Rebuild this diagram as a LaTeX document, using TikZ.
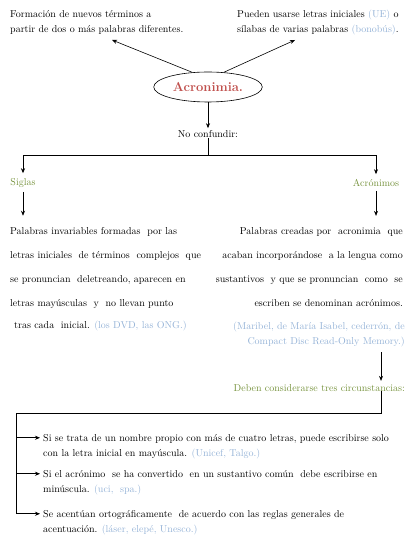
\documentclass[tikz,border=0pt]{standalone}
\usetikzlibrary{arrows.meta,shapes.geometric,calc}

\definecolor{acrorojo}{HTML}{C0504D}
\definecolor{verdeolivo}{HTML}{76923C}
\definecolor{ejemplo}{HTML}{95B3D7}

\tikzset{
    texto/.style={inner sep=0pt, font=\fontsize{10}{15}\selectfont},
    parrafo/.style={inner sep=0pt, font=\fontsize{10}{24}\selectfont},
    tipo/.style={inner sep=0pt, text=verdeolivo, font=\fontsize{10}{12}\selectfont},
    flecha/.style={->, >={Stealth[length=5pt,width=4pt]}, semithick}
}
\newcommand{\ej}[1]{\textcolor{ejemplo}{#1}}

\begin{document}
\begin{tikzpicture}[x=1pt,y=-1pt]
    \useasboundingbox (0,0) rectangle (418,545);

    % Concepto central
    \node[draw, semithick, ellipse, minimum width=90, minimum height=30,
          text=acrorojo, font=\fontsize{13}{15}\selectfont\bfseries] (acro) at (208,87) {Acronimia.};

    % Definiciones de arriba (base = ultima linea)
    \node[texto, anchor=base west, align=left] (formacion) at (10,33)
        {Formación de nuevos términos a\\partir de dos o más palabras diferentes.};
    \node[texto, anchor=base west, align=left] (pueden) at (237,33)
        {Pueden usarse letras iniciales \ej{(UE)} o\\sílabas de varias palabras \ej{(bonobús)}.};
    \coordinate (formacionpunta) at (112,40);
    \coordinate (puedenpunta) at (295,40);
    \draw[flecha] (acro.137) -- (formacionpunta);
    \draw[flecha] (acro.43) -- (puedenpunta);

    % No confundir
    \node[texto] (noconf) at (208,134) {No confundir:};
    \draw[flecha, shorten >=2pt] (acro.south) -- (noconf.north);
    \coordinate (bifurca) at (208,155);
    \node[tipo] (siglas) at (23,183) {Siglas};
    \node[tipo] (acronimos) at (376,183) {Acrónimos};
    \draw[semithick] (noconf.south) -- (bifurca);
    \draw[flecha, shorten >=5pt] (bifurca) -| (siglas.north);
    \draw[flecha, shorten >=5pt] (bifurca) -| (acronimos.north);

    % Siglas
    \node[parrafo, anchor=base west, align=left] (siglasdef) at (10,328)
        {Palabras invariables formadas \ por las\\
         letras iniciales \ de términos \ complejos \ que\\
         se pronuncian \ deletreando, aparecen en\\
         letras mayúsculas \ y \ no llevan punto\\[-2pt]
         \hspace{4pt}tras cada \ inicial. \ej{(los DVD, las ONG.)}};
    \draw[flecha, shorten <=4pt, shorten >=11pt] (siglas.south) -- (siglas.south |- siglasdef.north);

    % Acronimos
    \node[parrafo, anchor=base east, align=right] (acrodef) at (403,306)
        {Palabras creadas por \ acronimia \ que\\
         acaban incorporándose \ a la lengua como\\
         sustantivos \ y que se pronuncian \ como \ se\\
         escriben se denominan acrónimos.};
    \draw[flecha, shorten <=4pt, shorten >=11pt] (acronimos.south) -- (acronimos.south |- acrodef.north);
    \node[texto, anchor=base east, align=right, text=ejemplo] (acroej) at (405,344)
        {(Maribel, de María Isabel, cederrón, de\\Compact Disc Read-Only Memory.)};

    % Circunstancias
    \node[tipo, anchor=base east] (deben) at (405,391) {Deben considerarse tres circunstancias:};
    \coordinate (bajada) at (381,352);
    \draw[flecha, shorten >=3pt] (bajada) -- (bajada |- deben.north);
    \coordinate (codo) at (16,413);
    \node[texto, anchor=base west, align=left] (cond1) at (43,456)
        {Si se trata de un nombre propio con más de cuatro letras, puede escribirse solo\\
         con la letra inicial en mayúscula. \ej{(Unicef, Talgo.)}};
    \node[texto, anchor=base west, align=left] (cond2) at (43,492)
        {Si el acrónimo \ se ha convertido \ en un sustantivo común \ debe escribirse en\\
         minúscula. \ej{(uci, \ spa.)}};
    \node[texto, anchor=base west, align=left] (cond3) at (43,532)
        {Se acentúan ortográficamente \ de acuerdo con las reglas generales de\\
         acentuación. \ej{(láser, elepé, Unesco.)}};
    \draw[semithick] (bajada |- deben.south) |- (codo) -- ([yshift=-4pt]cond3.north west -| codo);
    \foreach \c in {cond1,cond2,cond3}
        \draw[flecha, shorten >=3pt] ([yshift=-4pt]\c.north west -| codo) -- ([yshift=-4pt]\c.north west);
\end{tikzpicture}
\end{document}
